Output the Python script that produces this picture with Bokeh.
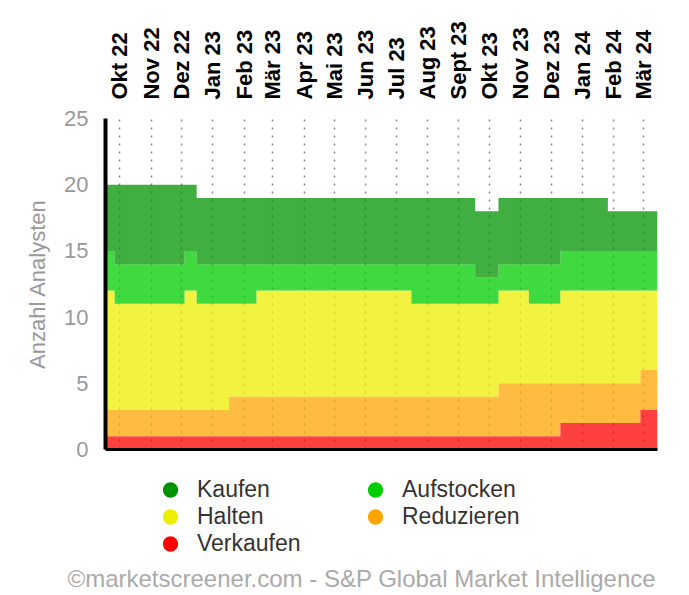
import pandas as pd
from math import pi
from bokeh.plotting import figure
from bokeh.layouts import column
from bokeh.models import FixedTicker, LinearAxis, Legend, LegendItem, Title, Range1d
from bokeh.embed import file_html
from bokeh.resources import INLINE

# ---- data -------------------------------------------------------------
# each state holds from its date until the next date
change_dates = ["2022-09-17", "2022-09-26", "2022-12-04", "2022-12-16", "2023-01-17",
                "2023-02-13", "2023-07-16", "2023-09-17", "2023-10-10", "2023-11-09",
                "2023-12-10", "2024-01-26", "2024-02-27"]
end_date = "2024-03-15"

verkaufen  = [1, 1, 1, 1, 1, 1, 1, 1, 1, 1, 2, 2, 3]
reduzieren = [2, 2, 2, 2, 3, 3, 3, 3, 4, 4, 3, 3, 3]
halten     = [9, 8, 9, 8, 7, 8, 7, 7, 7, 6, 7, 7, 6]
aufstocken = [3, 3, 3, 3, 3, 2, 3, 2, 2, 3, 3, 3, 3]
kaufen     = [5, 6, 5, 5, 5, 5, 5, 5, 5, 5, 4, 3, 3]

month_labels = ["Okt 22", "Nov 22", "Dez 22", "Jan 23", "Feb 23", "Mär 23", "Apr 23",
                "Mai 23", "Jun 23", "Jul 23", "Aug 23", "Sept 23", "Okt 23", "Nov 23",
                "Dez 23", "Jan 24", "Feb 24", "Mär 24"]
y_ticks = [0, 5, 10, 15, 20, 25]

series_names = ["Verkaufen", "Reduzieren", "Halten", "Aufstocken", "Kaufen"]
series_values = [verkaufen, reduzieren, halten, aufstocken, kaufen]
series_colors = ["#ff0000", "#ffa500", "#eeee00", "#00cc00", "#009300"]

FONT = "Liberation Sans"
W = 673

# ---- main figure ---------------------------------------------------------
x = pd.to_datetime(change_dates + [end_date])
p = figure(width=W, height=462, x_axis_type="datetime", x_axis_location="above",
           x_range=Range1d(start=x[0], end=x[-1]), y_range=Range1d(start=0, end=25),
           output_backend="svg", toolbar_location=None,
           min_border_left=105, min_border_right=16, min_border_top=118, min_border_bottom=13)
p.outline_line_color = None
p.background_fill_color = "white"
p.border_fill_color = "white"

lower = [0] * len(change_dates)
for name, vals, col in zip(series_names, series_values, series_colors):
    upper = [a + b for a, b in zip(lower, vals)]
    p.varea_step(x=x, y1=lower + [lower[-1]], y2=upper + [upper[-1]], step_mode="after",
                 fill_color=col, fill_alpha=0.75)
    lower = upper

month_ticks = pd.date_range("2022-10-01", periods=len(month_labels), freq="MS")
tick_ms = [int(t.value // 10**6) for t in month_ticks]
ticker = FixedTicker(ticks=tick_ms)
xa = p.xaxis[0]
xa.ticker = ticker
xa.major_label_overrides = {t: lab for t, lab in zip(tick_ms, month_labels)}
xa.major_label_orientation = pi / 2
xa.major_label_text_font = FONT
xa.major_label_text_font_style = "bold"
xa.major_label_text_font_size = "22px"
xa.major_label_text_color = "black"
xa.major_label_standoff = 13
xa.axis_line_color = None
xa.major_tick_line_color = None
xa.minor_tick_line_color = None

p.xgrid.ticker = ticker
p.xgrid.grid_line_color = "#888888"
p.xgrid.grid_line_width = 1.5
p.xgrid.grid_line_dash = "2 6"
p.ygrid.visible = False

ya = p.yaxis[0]
ya.ticker = FixedTicker(ticks=y_ticks)
ya.major_label_text_font = FONT
ya.major_label_text_font_size = "22px"
ya.major_label_text_color = "#999999"
ya.major_label_standoff = 11
ya.major_tick_line_color = None
ya.minor_tick_line_color = None
ya.axis_line_color = "black"
ya.axis_line_width = 4
ya.axis_label = "Anzahl Analysten"
ya.axis_label_text_font = FONT
ya.axis_label_text_font_size = "22px"
ya.axis_label_text_font_style = "normal"
ya.axis_label_text_color = "#999999"
ya.axis_label_standoff = 11

bottom = LinearAxis(ticker=FixedTicker(ticks=[]), axis_line_color="black", axis_line_width=3,
                    major_tick_line_color=None, minor_tick_line_color=None,
                    major_label_standoff=0, major_label_text_font_size="0px")
p.add_layout(bottom, "below")

# ---- legend + footer figure ------------------------------------------------
H2 = 130
q = figure(width=W, height=H2, x_axis_type=None, y_axis_type=None,
           x_range=Range1d(0, 1), y_range=Range1d(0, 1),
           output_backend="svg", toolbar_location=None,
           min_border_left=0, min_border_right=0, min_border_top=0, min_border_bottom=0)
q.outline_line_color = None
q.xgrid.visible = False
q.ygrid.visible = False
q.background_fill_color = "white"
q.border_fill_color = "white"

legend_order = ["Kaufen", "Aufstocken", "Halten", "Reduzieren", "Verkaufen"]
items = []
for name in legend_order:
    col = series_colors[series_names.index(name)]
    r = q.scatter(x=[float("nan")], y=[float("nan")], marker="circle", size=10,
                  fill_color=col, line_color=col, line_width=4.5)
    items.append(LegendItem(label=name, renderers=[r]))
legend = Legend(items=items, location=(51, 6), orientation="horizontal", ncols=2,
                glyph_width=28, glyph_height=27, spacing=0, label_standoff=13, label_width=164,
                padding=0, margin=0, border_line_alpha=0, background_fill_alpha=0,
                label_text_font=FONT, label_text_font_size="23px", label_text_color="#333333")
q.add_layout(legend, "center")

footer = Title(text="©marketscreener.com - S&P Global Market Intelligence",
               align="left", offset=-38, standoff=0, vertical_align="middle",
               text_font=FONT, text_font_size="24px", text_font_style="normal",
               text_color="#aaaaaa")
q.add_layout(footer, "below")

layout = column(p, q, spacing=0)
open("out.html", "w").write(file_html(layout, INLINE))
